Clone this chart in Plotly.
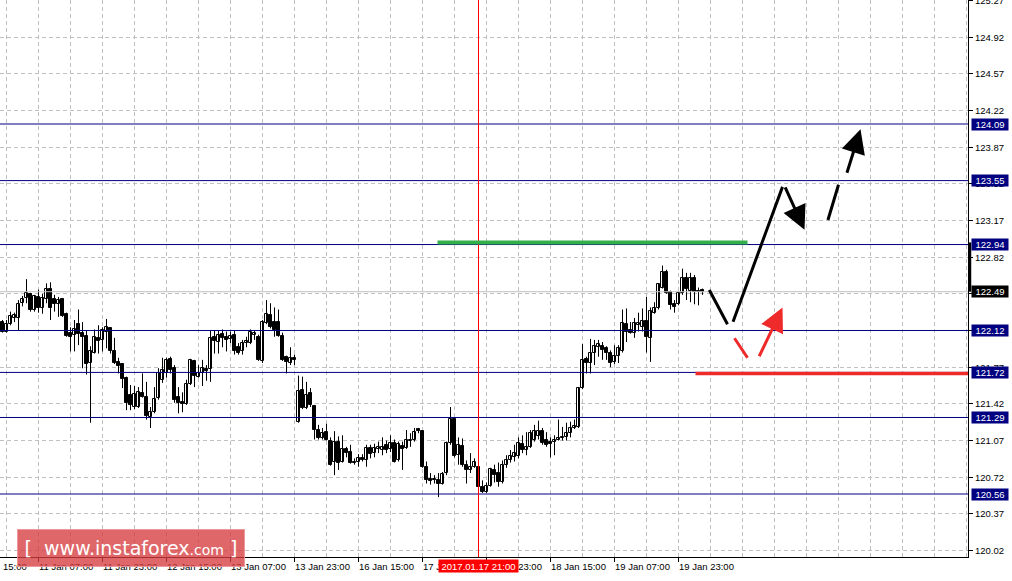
import plotly.graph_objects as go

# ---------------- data (USDJPY H1) ----------------
bar_index = list(range(-1, 175))

open_ = [122.20, 122.11, 122.18, 122.24, 122.24, 122.38, 122.43, 122.47, 122.32, 122.44,
         122.33, 122.42, 122.52, 122.42, 122.37, 122.42, 122.28, 122.10, 122.08, 122.18,
         122.10, 122.07, 121.81, 121.91, 122.05, 122.03, 122.11, 122.14, 121.92, 121.82,
         121.80, 121.67, 121.50, 121.39, 121.39, 121.52, 121.49, 121.29, 121.34, 121.48,
         121.65, 121.71, 121.85, 121.76, 121.49, 121.44, 121.42, 121.61, 121.83, 121.68,
         121.71, 121.75, 121.75, 122.06, 122.01, 122.09, 122.06, 122.04, 122.08, 121.96,
         121.92, 122.00, 122.00, 122.08, 122.06, 121.83, 122.19, 122.27, 122.20, 122.20,
         122.07, 121.87, 121.81, 121.86, 121.25, 121.55, 121.38, 121.52, 121.40, 121.17,
         121.09, 121.15, 121.07, 120.87, 121.06, 120.87, 120.99, 120.96, 120.87, 120.87,
         120.90, 120.88, 121.00, 120.95, 120.99, 120.98, 121.03, 120.99, 121.05, 120.88,
         121.02, 121.00, 121.07, 121.08, 121.18, 121.16, 120.82, 120.70, 120.70, 120.69,
         120.66, 120.76, 121.05, 121.28, 120.93, 121.02, 120.84, 120.79, 120.82, 120.82,
         120.63, 120.58, 120.64, 120.79, 120.76, 120.67, 120.84, 120.88, 120.91, 120.92,
         121.04, 120.98, 121.01, 121.08, 121.11, 121.16, 121.08, 121.06, 121.06, 121.08,
         121.09, 121.10, 121.14, 121.19, 121.20, 121.57, 121.85, 121.81, 121.91, 121.96,
         121.97, 121.95, 121.91, 121.82, 121.88, 121.92, 122.18, 122.12, 122.10, 122.17,
         122.15, 122.21, 122.05, 122.29, 122.33, 122.53, 122.68, 122.49, 122.37, 122.37,
         122.48, 122.62, 122.50, 122.62, 122.50, 122.51]

high = [122.22, 122.22, 122.30, 122.29, 122.41, 122.45, 122.61, 122.48, 122.46, 122.51,
        122.47, 122.57, 122.58, 122.46, 122.44, 122.43, 122.29, 122.15, 122.22, 122.32,
        122.20, 122.12, 121.97, 122.13, 122.17, 122.15, 122.23, 122.15, 122.05, 121.86,
        121.81, 121.68, 121.60, 121.59, 121.58, 121.71, 121.63, 121.39, 121.58, 121.76,
        121.86, 121.86, 121.87, 121.79, 121.58, 121.53, 121.65, 121.85, 121.84, 121.79,
        121.84, 121.79, 122.12, 122.12, 122.12, 122.13, 122.11, 122.11, 122.12, 122.00,
        122.03, 122.06, 122.13, 122.12, 122.08, 122.22, 122.41, 122.38, 122.34, 122.32,
        122.10, 121.88, 121.96, 121.89, 121.69, 121.68, 121.63, 121.57, 121.41, 121.22,
        121.19, 121.23, 121.10, 121.16, 121.11, 121.12, 121.01, 121.03, 120.90, 120.94,
        120.94, 121.03, 121.03, 121.04, 121.06, 121.10, 121.07, 121.12, 121.08, 121.06,
        121.06, 121.17, 121.14, 121.19, 121.19, 121.17, 120.87, 120.76, 120.74, 120.76,
        120.77, 121.06, 121.39, 121.29, 121.10, 121.09, 120.88, 120.95, 120.90, 120.87,
        120.69, 120.67, 120.81, 120.84, 120.86, 120.88, 120.93, 120.98, 121.03, 121.10,
        121.12, 121.15, 121.17, 121.22, 121.26, 121.19, 121.15, 121.10, 121.12, 121.27,
        121.20, 121.24, 121.25, 121.27, 121.58, 121.99, 121.87, 122.04, 122.03, 122.03,
        122.01, 121.97, 121.93, 121.98, 121.98, 122.32, 122.33, 122.20, 122.24, 122.29,
        122.33, 122.44, 122.34, 122.39, 122.57, 122.74, 122.70, 122.50, 122.41, 122.49,
        122.71, 122.67, 122.67, 122.65, 122.53, 122.52]

low = [122.10, 122.10, 122.17, 122.20, 122.12, 122.35, 122.38, 122.30, 122.30, 122.29,
       122.28, 122.38, 122.22, 122.30, 122.25, 122.25, 122.06, 121.92, 121.92, 121.98,
       121.76, 121.70, 121.24, 121.90, 121.90, 121.92, 121.95, 121.90, 121.80, 121.71,
       121.57, 121.36, 121.36, 121.37, 121.38, 121.48, 121.27, 121.19, 121.33, 121.46,
       121.62, 121.67, 121.71, 121.43, 121.33, 121.34, 121.41, 121.60, 121.58, 121.67,
       121.59, 121.64, 121.63, 121.90, 121.90, 121.96, 121.92, 122.00, 121.89, 121.89,
       121.89, 121.96, 121.99, 122.03, 121.83, 121.81, 122.18, 122.14, 122.06, 122.06,
       121.83, 121.71, 121.79, 121.79, 121.24, 121.37, 121.37, 121.39, 121.08, 121.08,
       121.08, 121.07, 120.83, 120.74, 120.79, 120.86, 120.91, 120.85, 120.84, 120.82,
       120.87, 120.82, 120.90, 120.91, 120.95, 120.93, 120.95, 120.96, 120.86, 120.87,
       120.79, 120.99, 121.01, 121.06, 121.14, 120.81, 120.66, 120.65, 120.66, 120.53,
       120.65, 120.74, 121.03, 120.91, 120.84, 120.82, 120.66, 120.76, 120.81, 120.62,
       120.57, 120.57, 120.63, 120.67, 120.63, 120.66, 120.81, 120.86, 120.87, 120.90,
       120.95, 120.93, 121.00, 121.06, 121.08, 121.03, 121.01, 120.91, 120.93, 121.07,
       121.07, 121.07, 121.10, 121.18, 121.19, 121.56, 121.71, 121.71, 121.79, 121.87,
       121.84, 121.84, 121.77, 121.80, 121.81, 121.91, 122.01, 122.09, 122.05, 122.11,
       122.11, 121.91, 121.82, 122.28, 122.32, 122.52, 122.47, 122.32, 122.29, 122.36,
       122.46, 122.41, 122.39, 122.37, 122.36, 122.46]

close = [122.11, 122.18, 122.26, 122.27, 122.37, 122.42, 122.48, 122.32, 122.45, 122.33,
         122.43, 122.52, 122.33, 122.37, 122.41, 122.26, 122.07, 122.06, 122.13, 122.09,
         122.06, 121.80, 121.92, 122.06, 122.02, 122.12, 122.15, 121.92, 121.81, 121.78,
         121.66, 121.43, 121.41, 121.51, 121.53, 121.49, 121.30, 121.34, 121.47, 121.71,
         121.74, 121.84, 121.74, 121.46, 121.43, 121.42, 121.61, 121.84, 121.69, 121.71,
         121.76, 121.73, 122.05, 122.02, 122.08, 122.05, 122.03, 122.07, 121.92, 121.91,
         122.00, 122.02, 122.11, 122.10, 121.84, 122.20, 122.28, 122.15, 122.12, 122.07,
         121.84, 121.82, 121.86, 121.84, 121.54, 121.38, 121.50, 121.41, 121.17, 121.09,
         121.14, 121.08, 120.84, 121.06, 120.86, 120.99, 120.95, 120.86, 120.86, 120.90,
         120.88, 121.00, 120.94, 121.00, 121.01, 121.01, 120.98, 121.05, 120.87, 121.04,
         120.99, 121.08, 121.08, 121.15, 121.16, 120.82, 120.69, 120.68, 120.69, 120.66,
         120.75, 121.05, 121.28, 120.92, 121.03, 120.84, 120.79, 120.82, 120.87, 120.63,
         120.58, 120.64, 120.80, 120.74, 120.67, 120.84, 120.88, 120.92, 120.95, 121.05,
         120.98, 121.01, 121.14, 121.16, 121.16, 121.05, 121.03, 121.04, 121.08, 121.09,
         121.10, 121.14, 121.19, 121.21, 121.57, 121.84, 121.81, 121.91, 121.97, 121.99,
         121.93, 121.91, 121.81, 121.88, 121.95, 122.19, 122.11, 122.10, 122.19, 122.19,
         122.21, 122.06, 122.31, 122.33, 122.56, 122.68, 122.48, 122.36, 122.34, 122.48,
         122.62, 122.52, 122.62, 122.49, 122.49, 122.49]

time_label_bars = [8, 24, 40, 56, 72, 88, 104, 120, 136, 152, 168]
time_labels = ["11 Jan 07:00", "11 Jan 23:00", "12 Jan 15:00", "13 Jan 07:00",
               "13 Jan 23:00", "16 Jan 15:00", "17 Jan 07:00", "17 Jan 23:00",
               "18 Jan 15:00", "19 Jan 07:00", "19 Jan 23:00"]
first_partial_label = "15:00"
marked_bar = 118
marked_label = "2017.01.17 21:00"

price_ticks = [120.02, 120.37, 120.72, 121.07, 121.42, 121.77, 122.12, 122.47,
               122.82, 123.17, 123.52, 123.87, 124.22, 124.57, 124.92, 125.27]
levels = [124.09, 123.55, 122.94, 122.12, 121.72, 121.29, 120.56]
bid_price = 122.49

green_level = 122.96
green_span = [107.75, 185.25]
red_level = 121.71
red_span = [172.25, 243.5]

# forecast strokes: (x_start, y_start, x_end, y_end, has_head)
black_strokes = [(175.5, 122.52, 180.25, 122.18, False),
                 (181.5, 122.19, 194.0, 123.49, False),
                 (194.5, 123.50, 199.5, 123.08, True),
                 (205.25, 123.16, 208.0, 123.51, False),
                 (210.0, 123.61, 213.5, 124.04, True)]
red_strokes = [(181.75, 122.06, 185.25, 121.86, False),
               (188.0, 121.86, 194.0, 122.34, True)]

# ---------------- figure ----------------
NAVY = "#000080"
GRID = "#c0c0c0"
RED = "#ee2a2a"
FONT = "Liberation Sans"

fig = go.Figure()

# wicks
wx, wy = [], []
for i, h, l in zip(bar_index, high, low):
    wx += [i, i, None]
    wy += [l, h, None]
fig.add_trace(go.Scatter(x=wx, y=wy, mode="lines", line=dict(color="black", width=1),
                         hoverinfo="skip"))

# bodies
ux, ub, uh, dx, db, dh = [], [], [], [], [], []
for i, o, c in zip(bar_index, open_, close):
    hgt = max(abs(c - o), 0.004)
    if c >= o:
        ux.append(i); ub.append(min(o, c)); uh.append(hgt)
    else:
        dx.append(i); db.append(min(o, c)); dh.append(hgt)
fig.add_trace(go.Bar(x=ux, y=uh, base=ub, width=0.6,
                     marker=dict(color="white", line=dict(color="black", width=1)),
                     hoverinfo="skip"))
fig.add_trace(go.Bar(x=dx, y=dh, base=db, width=0.6,
                     marker=dict(color="black", line=dict(color="black", width=1)),
                     hoverinfo="skip"))

shapes = []
for lv in levels:
    shapes.append(dict(type="line", xref="paper", x0=0, x1=1, yref="y", y0=lv, y1=lv,
                       line=dict(color=NAVY, width=1)))
shapes.append(dict(type="line", xref="paper", x0=0, x1=1, yref="y", y0=bid_price, y1=bid_price,
                   line=dict(color=GRID, width=1)))
shapes.append(dict(type="line", xref="x", x0=marked_bar, x1=marked_bar, yref="paper", y0=0, y1=1,
                   line=dict(color="#ff0000", width=1)))
shapes.append(dict(type="line", xref="x", x0=green_span[0], x1=green_span[1], yref="y",
                   y0=green_level, y1=green_level, line=dict(color="#33b04a", width=4)))
shapes.append(dict(type="line", xref="x", x0=red_span[0], x1=red_span[1], yref="y",
                   y0=red_level, y1=red_level, line=dict(color=RED, width=3.5)))
shapes.append(dict(type="line", xref="paper", x0=1.0018, x1=1.0018, yref="y",
                   y0=bid_price, y1=levels[2] + 0.02, line=dict(color="black", width=3)))

ann = []
# bottom time labels
for b, t in zip(time_label_bars, time_labels):
    ann.append(dict(x=b, xref="x", y=0, yref="paper", yanchor="top", xanchor="left",
                    xshift=-2, yshift=-2, text=t, showarrow=False,
                    font=dict(family=FONT, size=9.5, color="black")))
ann.append(dict(x=0, xref="paper", y=0, yref="paper", yanchor="top", xanchor="left",
                xshift=1, yshift=-2, text=first_partial_label, showarrow=False,
                font=dict(family=FONT, size=9.5, color="black")))
# right price labels
for p in price_ticks:
    ann.append(dict(x=1, xref="paper", y=p, yref="y", xanchor="left", yanchor="middle",
                    xshift=5, text=f"{p:.2f}", showarrow=False,
                    font=dict(family=FONT, size=9.5, color="black")))
for lv in levels:
    ann.append(dict(x=1, xref="paper", y=lv, yref="y", xanchor="left", yanchor="middle",
                    xshift=3, text=f"{lv:.2f}", showarrow=False, bgcolor=NAVY,
                    width=36, height=11, borderpad=0, align="center",
                    font=dict(family=FONT, size=9.5, color="white")))
ann.append(dict(x=1, xref="paper", y=bid_price, yref="y", xanchor="left", yanchor="middle",
                xshift=3, text=f"{bid_price:.2f}", showarrow=False, bgcolor="black",
                width=36, height=11, borderpad=0, align="center",
                font=dict(family=FONT, size=9.5, color="white")))
# marked date box
ann.append(dict(x=marked_bar, xref="x", y=0, yref="paper", yanchor="top", xanchor="center",
                yshift=-2, text=marked_label, showarrow=False, bgcolor="#ff0000",
                width=79, height=12, borderpad=0,
                font=dict(family=FONT, size=9.5, color="white")))
# forecast strokes
for strokes, col in ((black_strokes, "black"), (red_strokes, RED)):
    for x0, y0, x1, y1, head in strokes:
        ann.append(dict(x=x1, y=y1, xref="x", yref="y", ax=x0, ay=y0, axref="x", ayref="y",
                        text="", showarrow=True, arrowcolor=col, arrowwidth=3,
                        arrowhead=2 if head else 0, arrowsize=1.6, standoff=0))
# logo
ann.append(dict(x=17 / 968, xref="paper", y=-0.018, yref="paper", xanchor="left",
                yanchor="bottom", width=224, height=34, borderpad=1,
                bgcolor="rgba(214,60,64,0.78)", bordercolor="rgba(235,150,150,0.9)",
                borderwidth=1, showarrow=False, align="center",
                text="[ &nbsp;www.instaforex<span style='font-size:14px'>.com</span> ]",
                font=dict(family="DejaVu Sans", size=19, color="white")))

fig.update_layout(
    width=1012, height=581,
    margin=dict(l=0, r=44, t=0, b=24),
    paper_bgcolor="white", plot_bgcolor="white",
    showlegend=False, barmode="overlay", bargap=0,
    shapes=shapes, annotations=ann,
    xaxis=dict(range=[-1.625, 240.375], tickvals=time_label_bars, ticks="outside",
               ticklen=4, tickcolor="black", showticklabels=False,
               showgrid=True, gridcolor=GRID, griddash="4px,3px", gridwidth=1,
               minor=dict(dtick=8, tick0=0, showgrid=True, gridcolor=GRID,
                          griddash="4px,3px", ticks=""),
               showline=True, linecolor="black", linewidth=1, zeroline=False,
               fixedrange=True),
    yaxis=dict(range=[119.959, 125.273], side="right", tickvals=price_ticks,
               ticks="outside", ticklen=4, tickcolor="black", showticklabels=False,
               showgrid=True, gridcolor=GRID, griddash="4px,3px", gridwidth=1,
               showline=True, linecolor="black", linewidth=1, zeroline=False,
               fixedrange=True),
)

fig.write_html("out.html", config={"displayModeBar": False},
               post_script="document.body.style.margin='0px';"
                           "document.body.style.overflow='hidden';")
